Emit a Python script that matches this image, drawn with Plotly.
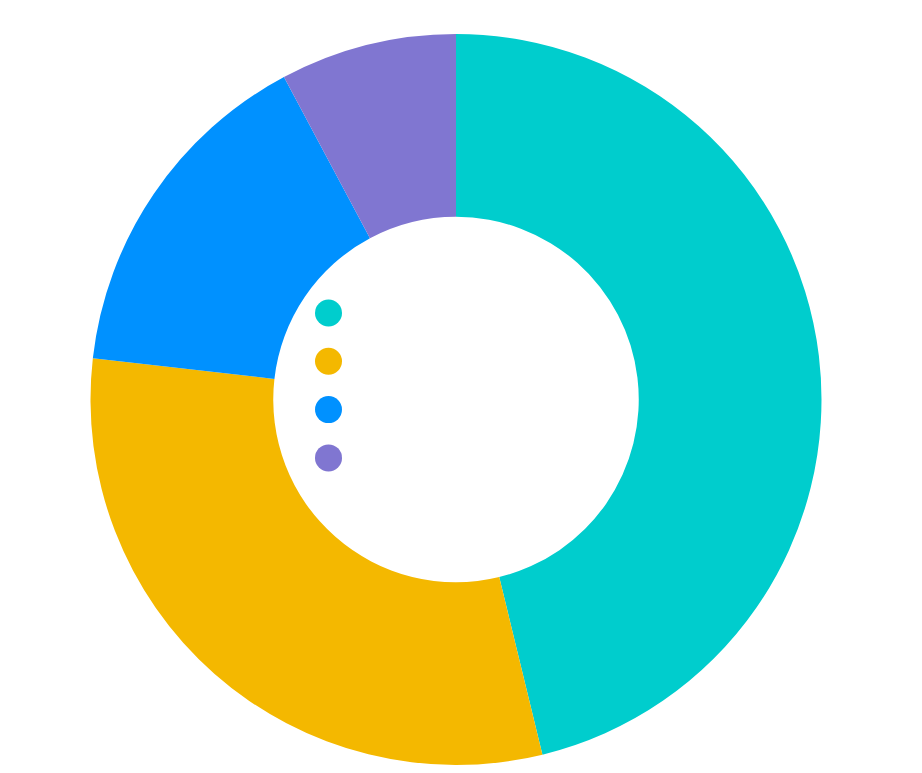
import plotly.graph_objects as go

# Slice data
labels = ["", " ", "  ", "   "]
values = [46.2, 30.6, 15.4, 7.8]
colors = ["#00CDCD", "#F4B800", "#0091FF", "#8076D1"]

W, H = 922, 773
cx, cy, r = 456, 399.5, 365.5

fig = go.Figure(
    go.Pie(
        labels=labels,
        values=values,
        hole=0.5,
        sort=False,
        direction="clockwise",
        rotation=0,
        marker=dict(colors=colors, line=dict(width=0)),
        textinfo="none",
        hoverinfo="none",
        showlegend=False,
        domain=dict(
            x=[(cx - r) / W, (cx + r) / W],
            y=[(H - cy - r) / H, (H - cy + r) / H],
        ),
    )
)

# Round legend markers stacked inside the hole
legend_x, legend_y0, legend_step, dot_d = 328.5, 313, 48.3, 27
shapes = []
for i, c in enumerate(colors):
    py = legend_y0 + i * legend_step
    shapes.append(
        dict(
            type="circle",
            xref="paper", yref="paper",
            xsizemode="pixel", ysizemode="pixel",
            xanchor=legend_x / W, yanchor=1 - py / H,
            x0=-dot_d / 2, x1=dot_d / 2, y0=-dot_d / 2, y1=dot_d / 2,
            fillcolor=c, line=dict(width=0),
        )
    )

fig.update_layout(
    width=W,
    height=H,
    margin=dict(l=0, r=0, t=0, b=0),
    paper_bgcolor="white",
    plot_bgcolor="white",
    shapes=shapes,
)

fig.write_html("out.html")
